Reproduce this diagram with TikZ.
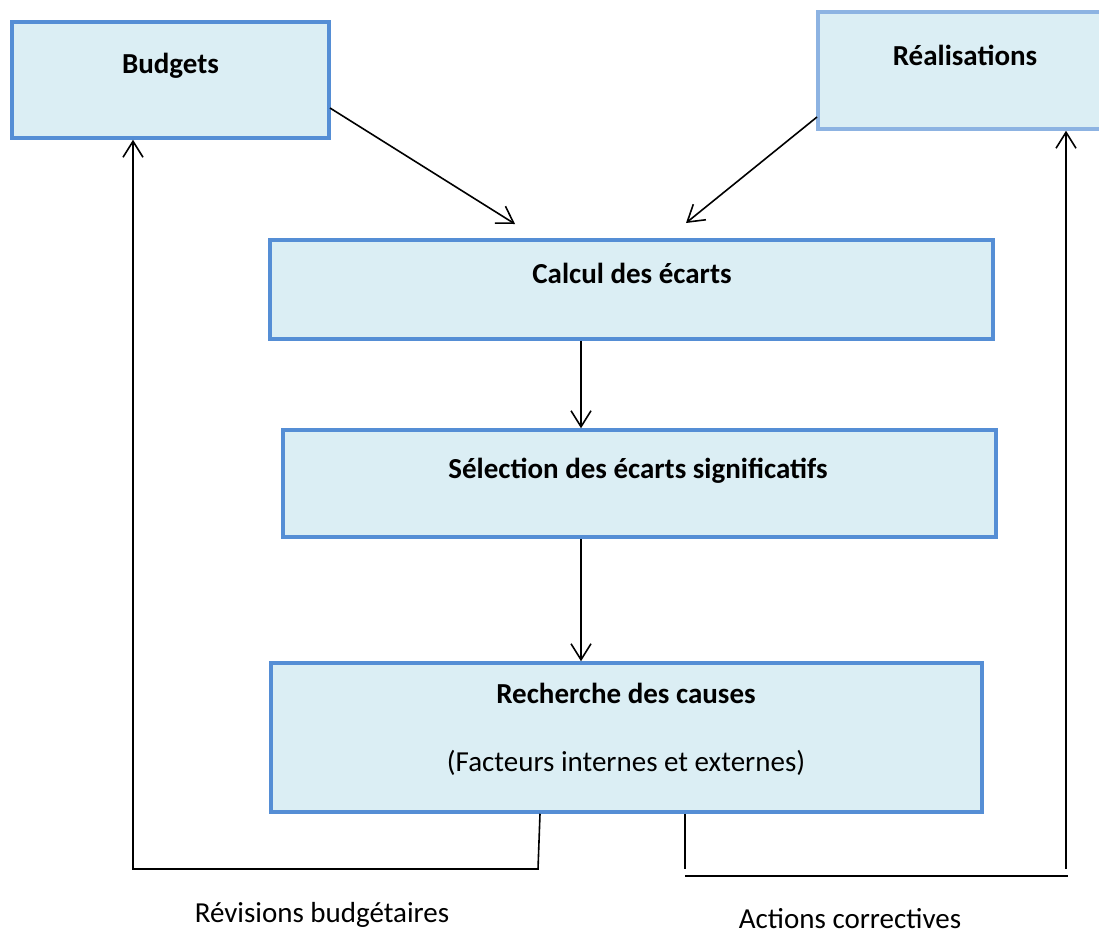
\documentclass[tikz,border=0pt]{standalone}
\usepackage{fontspec}
\setmainfont{Carlito}
\usetikzlibrary{arrows.meta}
\definecolor{boxfill}{HTML}{DBEEF4}
\definecolor{boxedge}{HTML}{558ED5}
\definecolor{boxedgelight}{HTML}{8DB3E2}
\begin{document}
\begin{tikzpicture}[x=1pt,y=-1pt,
  stage/.style={draw=boxedge, line width=3.5pt, fill=boxfill, rectangle, inner sep=0pt},
  title/.style={font=\fontsize{29}{35}\selectfont\bfseries, anchor=base, inner sep=0pt},
  note/.style={font=\fontsize{29}{35}\selectfont, anchor=base, inner sep=0pt},
  conn/.style={line width=1.6pt, draw=black},
  flow/.style={conn, -{Straight Barb[length=16pt,width=20pt]}}]
\clip (0,0) rectangle (1099,934);
\fill[white] (0,0) rectangle (1099,934);

% process boxes
\node[stage, minimum width=317pt, minimum height=116pt] (budgets) at (170.5,80) {};
\node[stage, draw=boxedgelight, minimum width=294pt, minimum height=117pt] (realisations) at (965,70.5) {};
\node[stage, minimum width=723pt, minimum height=99pt] (calcul) at (631.5,289.5) {};
\node[stage, minimum width=713pt, minimum height=107pt] (selection) at (639.5,483.5) {};
\node[stage, minimum width=711pt, minimum height=149pt] (recherche) at (626.5,737.5) {};

% box texts
\node[title] (budgets-t) at (170.5,74) {Budgets};
\node[title] (realisations-t) at (965,66) {Réalisations};
\node[title] (calcul-t) at (632,283) {Calcul des écarts};
\node[title] (selection-t) at (638,478) {Sélection des écarts significatifs};
\node[title] (recherche-t) at (626,703) {Recherche des causes};
\node[note] (facteurs-t) at (626,771) {(Facteurs internes et externes)};

% feedback labels
\node[note] (revisions-t) at (322,922) {Révisions budgétaires};
\node[note] (actions-t) at (850,928) {Actions correctives};

% inputs to the variance calculation
\coordinate (b-out) at (330,108);
\coordinate (c-in-l) at (515,224);
\draw[flow] (b-out) -- (c-in-l);
\coordinate (r-out) at (817,117);
\coordinate (c-in-r) at (686,223);
\draw[flow] (r-out) -- (c-in-r);

% main chain
\coordinate (spine) at (581,0);
\draw[flow] (calcul.south -| spine) -- (selection.north -| spine);
\draw[flow] (selection.south -| spine) -- (recherche.north -| spine);

% budget revision loop
\coordinate (rev-top) at (540,0);
\coordinate (rev-a) at (538,869);
\coordinate (rev-b) at (133,869);
\draw[flow] (recherche.south -| rev-top) -- (rev-a) -- (rev-b) -- (budgets.south -| rev-b);

% corrective action loop
\coordinate (act-top) at (685,0);
\coordinate (act-a) at (685,869);
\coordinate (act-l) at (685,876);
\coordinate (act-r) at (1068,876);
\coordinate (act-b) at (1066,869);
\draw[conn] (recherche.south -| act-top) -- (act-a);
\draw[conn] (act-l) -- (act-r);
\draw[flow] (act-b) -- (realisations.south -| act-b);
\end{tikzpicture}
\end{document}
